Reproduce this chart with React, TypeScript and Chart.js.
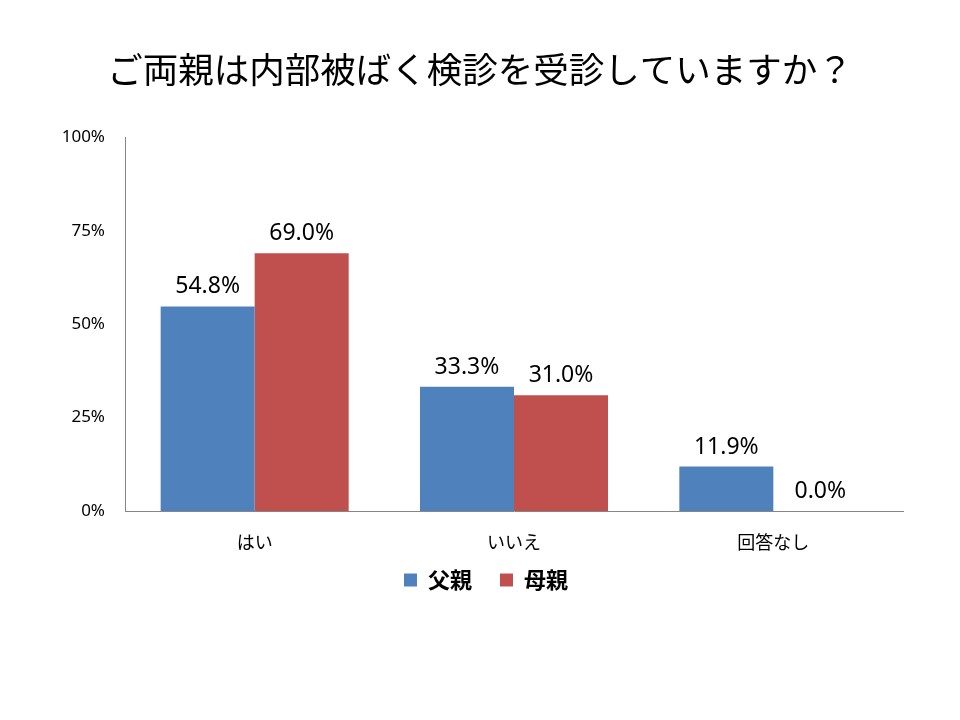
import React, { useEffect, useRef } from "react";
import { Chart, registerables } from "chart.js";

Chart.register(...registerables);

const TITLE = "ご両親は内部被ばく検診を受診していますか？";
const CATEGORIES = ["はい", "いいえ", "回答なし"];
const SERIES_NAMES = ["父親", "母親"];
const FATHER = [54.8, 33.3, 11.9];
const MOTHER = [69.0, 31.0, 0.0];
const COLORS = ["#4F81BD", "#C0504D"];
const Y_TICKS = [0, 25, 50, 75, 100];

const LATIN = '"Noto Sans", "Noto Sans CJK JP", sans-serif';
const CJK = '"Noto Sans CJK JP", "Noto Sans", sans-serif';

const dataLabelPlugin = {
  id: "dataLabels",
  afterDatasetsDraw(chart: any) {
    const ctx = chart.ctx;
    ctx.save();
    ctx.font = `23px ${LATIN}`;
    ctx.fillStyle = "#000";
    ctx.textAlign = "center";
    ctx.textBaseline = "bottom";
    chart.data.datasets.forEach((ds: any, i: number) => {
      const meta = chart.getDatasetMeta(i);
      meta.data.forEach((bar: any, j: number) => {
        const v = ds.data[j] as number;
        ctx.fillText(v.toFixed(1) + "%", bar.x, bar.y - 8);
      });
    });
    ctx.restore();
  },
};

// nudge the legend so it sits closer to the axis labels, as in the reference
const legendShiftPlugin = {
  id: "legendShift",
  afterLayout(chart: any) {
    const l = chart.legend;
    if (l) {
      l.top -= 17;
      l.bottom -= 17;
      l.left += 6;
      l.right += 6;
    }
  },
};

export default function App() {
  const ref = useRef<HTMLCanvasElement>(null);
  useEffect(() => {
    if (!ref.current) return;
    const chart = new Chart(ref.current, {
      type: "bar",
      data: {
        labels: CATEGORIES,
        datasets: [
          { label: SERIES_NAMES[0], data: FATHER, backgroundColor: COLORS[0], barPercentage: 1, categoryPercentage: 0.725 },
          { label: SERIES_NAMES[1], data: MOTHER, backgroundColor: COLORS[1], barPercentage: 1, categoryPercentage: 0.725 },
        ],
      },
      options: {
        responsive: false,
        animation: false,
        layout: { padding: { top: 0, left: 0, right: 0, bottom: 102 } },
        plugins: {
          title: {
            display: true,
            text: TITLE,
            color: "#000",
            font: { family: CJK, size: 35.5, weight: "normal" },
            padding: { top: 48, bottom: 47 },
          },
          legend: {
            position: "bottom",
            labels: {
              color: "#000",
              font: { family: CJK, size: 22, weight: "bold" },
              boxWidth: 13,
              boxHeight: 13,
              padding: 28,
            },
          },
          tooltip: { enabled: false },
        },
        scales: {
          x: {
            grid: { display: false, drawTicks: false },
            border: { display: true, color: "#868686", width: 1 },
            ticks: { color: "#000", font: { family: CJK, size: 18 }, padding: 20 },
            afterFit: (s: any) => { s.height = 47; },
          },
          y: {
            min: 0,
            max: 100,
            grid: { display: false, drawTicks: false },
            border: { display: true, color: "#868686", width: 1 },
            afterBuildTicks: (s: any) => { s.ticks = Y_TICKS.map((v) => ({ value: v })); },
            ticks: {
              color: "#000",
              font: { family: LATIN, size: 17 },
              padding: 20,
              callback: (v: any) => v + "%",
            },
            afterFit: (s: any) => { s.width = 125; },
          },
          spacer: {
            type: "linear",
            position: "right",
            display: true,
            grid: { display: false, drawTicks: false },
            border: { display: false },
            ticks: { display: false },
            afterFit: (s: any) => { s.width = 57; },
          },
        },
      },
      plugins: [dataLabelPlugin, legendShiftPlugin],
    });
    return () => chart.destroy();
  }, []);
  return (
    <div style={{ position: "fixed", left: 0, top: 0, width: 960, height: 720, background: "#fff" }}>
      <canvas ref={ref} width={960} height={720} />
    </div>
  );
}
